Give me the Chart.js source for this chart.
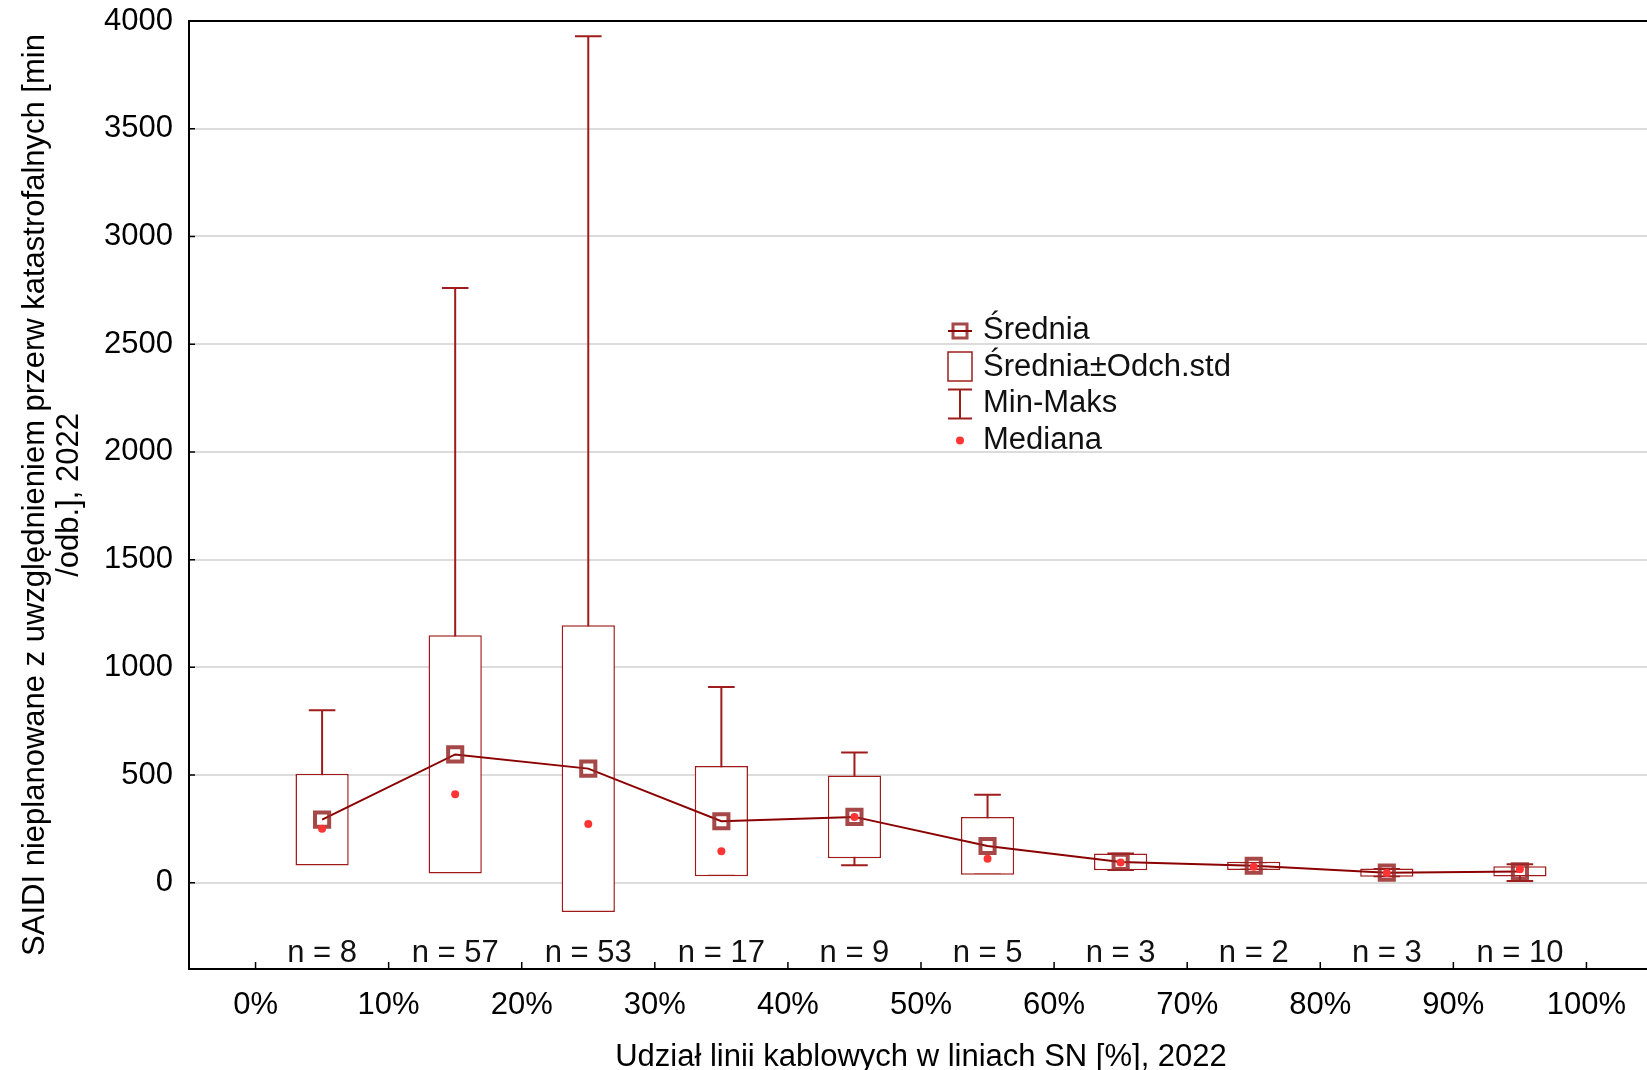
<!DOCTYPE html>
<html>
<head>
<meta charset="utf-8">
<script src="https://cdn.jsdelivr.net/npm/chart.js@4.4.1/dist/chart.umd.min.js"></script>
<style>
  html, body { margin: 0; padding: 0; background: #fff; overflow: hidden; }
  #chart { position: absolute; left: 0; top: 0; display: block; }
</style>
</head>
<body>
<canvas id="chart" width="1653" height="1070"></canvas>
<script>
// środki klas udziału linii kablowych [%]
const xCenters = [5, 15, 25, 35, 45, 55, 65, 75, 85, 95];
const nCounts = [8, 57, 53, 17, 9, 5, 3, 2, 3, 10];
const means = [293, 596, 530, 286, 306, 171, 97, 79, 47, 53];
const sds = [213, 553, 665, 256, 192, 134, 39, 19, 19, 24];
const mins = [110, 50, 15, 40, 82, 45, 60, 66, 30, 8];
const maxs = [801, 2761, 3929, 909, 605, 409, 136, 92, 64, 86];
const medians = [251, 411, 273, 147, 306, 112, 94, 75, 45, 63];
const xTickValues = [0, 10, 20, 30, 40, 50, 60, 70, 80, 90, 100];
const yTickValues = [0, 500, 1000, 1500, 2000, 2500, 3000, 3500, 4000];
const legendLabels = ['Średnia', 'Średnia±Odch.std', 'Min-Maks', 'Mediana'];

const FONT = '"Liberation Sans", Arial, sans-serif';
const FS = 31;
const lineColor = '#8b0000';
const boxColor = '#a01c1c';
const meanColor = 'rgba(150, 40, 40, 0.85)';
const medianColor = '#ff3535';

// whiskers: pionowa kreska + dwie poprzeczki dla kazdej klasy
const whiskerData = [];
xCenters.forEach((c, i) => {
    whiskerData.push({ x: c, y: mins[i] }, { x: c, y: maxs[i] }, { x: c, y: null });
    whiskerData.push({ x: c - 1, y: maxs[i] }, { x: c + 1, y: maxs[i] }, { x: c, y: null });
    whiskerData.push({ x: c - 1, y: mins[i] }, { x: c + 1, y: mins[i] }, { x: c, y: null });
});

const boxData = xCenters.map((c, i) => ({ x: c, y: [means[i] - sds[i], means[i] + sds[i]] }));
const meanData = xCenters.map((c, i) => ({ x: c, y: means[i] }));
const medianData = xCenters.map((c, i) => ({ x: c, y: medians[i] }));

const decor = {
    id: 'decor',
    afterDraw(chart) {
        const { ctx, chartArea, scales } = chart;
        const xs = scales.x, ys = scales.y;
        ctx.save();

        // gorna ramka
        ctx.strokeStyle = '#000';
        ctx.lineWidth = 2;
        ctx.beginPath();
        ctx.moveTo(chartArea.left, chartArea.top);
        ctx.lineTo(chartArea.right, chartArea.top);
        ctx.stroke();

        // znaczniki do wewnatrz
        ctx.lineWidth = 1.5;
        ctx.beginPath();
        xs.ticks.forEach(t => {
            const px = xs.getPixelForValue(t.value);
            ctx.moveTo(px, chartArea.bottom);
            ctx.lineTo(px, chartArea.bottom - 7);
        });
        ys.ticks.forEach(t => {
            const py = ys.getPixelForValue(t.value);
            ctx.moveTo(chartArea.left, py);
            ctx.lineTo(chartArea.left + 6, py);
        });
        ctx.stroke();

        // liczebnosci
        ctx.font = FS + 'px ' + FONT;
        ctx.fillStyle = '#111';
        ctx.textAlign = 'center';
        ctx.textBaseline = 'middle';
        xCenters.forEach((c, i) => {
            ctx.fillText('n = ' + nCounts[i], xs.getPixelForValue(c), ys.getPixelForValue(-330));
        });

        // legenda
        const sx = 960, tx = 983, base = 339, step = 36.5;
        ctx.textAlign = 'left';
        ctx.textBaseline = 'alphabetic';
        legendLabels.forEach((t, i) => ctx.fillText(t, tx, base + i * step));

        let cy = base - 8;
        ctx.strokeStyle = meanColor;
        ctx.lineWidth = 3;
        ctx.strokeRect(sx - 7, cy - 7, 14, 14);
        ctx.strokeStyle = lineColor;
        ctx.lineWidth = 2;
        ctx.beginPath();
        ctx.moveTo(sx - 12, cy);
        ctx.lineTo(sx + 12, cy);
        ctx.stroke();

        cy = base + step - 9;
        ctx.strokeStyle = boxColor;
        ctx.lineWidth = 1.5;
        ctx.strokeRect(sx - 12, cy - 14.5, 24, 29);

        cy = base + 2 * step - 8;
        ctx.lineWidth = 2;
        ctx.beginPath();
        ctx.moveTo(sx, cy - 14.5);
        ctx.lineTo(sx, cy + 14.5);
        ctx.moveTo(sx - 12, cy - 14.5);
        ctx.lineTo(sx + 12, cy - 14.5);
        ctx.moveTo(sx - 12, cy + 14.5);
        ctx.lineTo(sx + 12, cy + 14.5);
        ctx.stroke();

        cy = base + 3 * step - 8;
        ctx.fillStyle = medianColor;
        ctx.beginPath();
        ctx.arc(sx, cy, 4, 0, Math.PI * 2);
        ctx.fill();

        ctx.restore();
    }
};

new Chart(document.getElementById('chart'), {
    type: 'line',
    data: {
        datasets: [
            {
                type: 'line',
                label: 'Min-Maks',
                data: whiskerData,
                order: 4,
                borderColor: boxColor,
                borderWidth: 2,
                pointRadius: 0,
                spanGaps: false,
                fill: false
            },
            {
                type: 'bar',
                label: 'Średnia±Odch.std',
                data: boxData,
                order: 3,
                backgroundColor: '#fff',
                borderColor: boxColor,
                borderWidth: 1.5,
                borderSkipped: false,
                barPercentage: 0.4,
                categoryPercentage: 1,
                grouped: false
            },
            {
                type: 'line',
                label: 'Średnia',
                data: meanData,
                order: 2,
                borderColor: lineColor,
                borderWidth: 2,
                pointStyle: 'rect',
                pointRadius: 10,
                pointBorderWidth: 4,
                pointBorderColor: meanColor,
                pointBackgroundColor: 'rgba(255,255,255,0)',
                fill: false
            },
            {
                type: 'line',
                label: 'Mediana',
                data: medianData,
                order: 1,
                showLine: false,
                pointRadius: 4,
                pointBorderWidth: 0,
                pointBackgroundColor: medianColor
            }
        ]
    },
    options: {
        responsive: false,
        devicePixelRatio: 1,
        animation: false,
        events: [],
        layout: { autoPadding: false, padding: { top: 21, left: 0, right: 0, bottom: 0 } },
        plugins: {
            legend: { display: false },
            tooltip: { enabled: false }
        },
        scales: {
            x: {
                type: 'linear',
                min: -5,
                max: 105,
                offset: false,
                afterBuildTicks: s => { s.ticks = xTickValues.map(v => ({ value: v })); },
                afterFit: s => { s.height = 101; s.paddingLeft = 0; s.paddingRight = 0; },
                ticks: {
                    padding: 18,
                    color: '#000',
                    font: { family: FONT, size: FS },
                    callback: v => v + '%'
                },
                grid: { display: true, drawOnChartArea: false, drawTicks: false },
                border: { display: true, color: '#000', width: 2 },
                title: {
                    display: true,
                    text: 'Udział linii kablowych w liniach SN [%], 2022',
                    color: '#000',
                    font: { family: FONT, size: FS, lineHeight: 1.1 },
                    padding: { top: 0, bottom: -5 }
                }
            },
            y: {
                min: -400,
                max: 4000,
                afterBuildTicks: s => { s.ticks = yTickValues.map(v => ({ value: v })); },
                afterFit: s => { s.width = 189; s.paddingTop = 0; s.paddingBottom = 0; },
                ticks: {
                    padding: 16,
                    color: '#000',
                    font: { family: FONT, size: FS },
                    callback: v => String(v)
                },
                grid: { color: '#dcdcdc', lineWidth: 2, drawTicks: false },
                border: { display: true, color: '#000', width: 2 },
                title: {
                    display: true,
                    text: ['SAIDI nieplanowane z uwzględnieniem przerw katastrofalnych [min', '/odb.], 2022'],
                    color: '#000',
                    font: { family: FONT, size: FS, lineHeight: 1.1 },
                    padding: { top: 18, bottom: 0 }
                }
            }
        }
    },
    plugins: [decor]
});
</script>
</body>
</html>
